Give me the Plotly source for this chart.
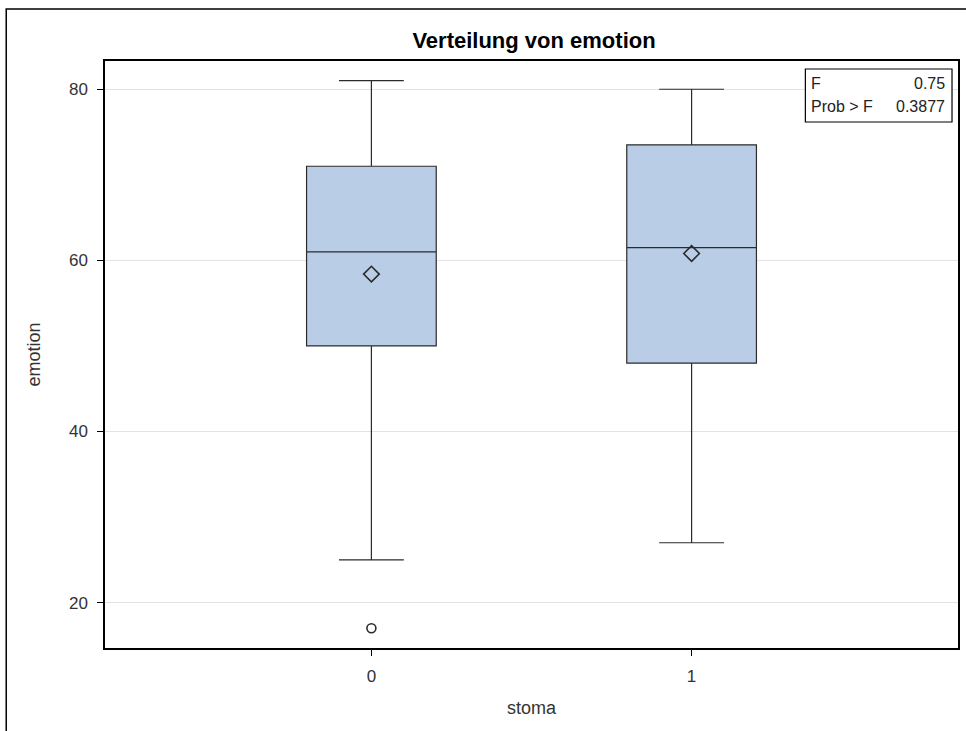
import plotly.graph_objects as go

# Summary statistics of emotion by stoma group
groups = [0, 1]
q1 = [50.0, 48.0]
median = [61.0, 61.5]
q3 = [71.0, 73.5]
lower_whisker = [25.0, 27.0]
upper_whisker = [81.0, 80.0]
means = [58.4, 60.8]
outlier_group = [0]
outlier_value = [17.0]

f_value = "0.75"
p_value = "0.3877"
y_ticks = [20, 40, 60, 80]

FONT = "Liberation Sans, Arial, sans-serif"
BOX_FILL = "#B9CEE6"
LINE = "#2b2b2b"
TEXT = "#333333"

fig = go.Figure()
fig.add_trace(go.Box(
    x=groups, q1=q1, median=median, q3=q3,
    lowerfence=lower_whisker, upperfence=upper_whisker,
    fillcolor=BOX_FILL, line=dict(color=LINE, width=1.2),
    width=0.405, whiskerwidth=0.5, boxpoints=False, showlegend=False,
    hoverinfo="skip",
))
fig.add_trace(go.Scatter(
    x=groups, y=means, mode="markers", showlegend=False,
    marker=dict(symbol="diamond-open", size=12, color=LINE, line=dict(width=1.6, color=LINE)),
))
fig.add_trace(go.Scatter(
    x=outlier_group, y=outlier_value, mode="markers", showlegend=False,
    marker=dict(symbol="circle-open", size=9, color=LINE, line=dict(width=1.6, color=LINE)),
))

W, H = 966, 731
L, R, T, B = 105, 6, 61, 83
pw, ph = W - L - R, H - T - B

def px(x):
    return (x - L) / pw

def py(y):
    return (H - B - y) / ph

shapes = [
    # outer frame around the graph
    dict(type="rect", xref="paper", yref="paper", x0=px(6), x1=px(1100), y0=py(9), y1=py(900),
         line=dict(color="#000000", width=1.5), fillcolor="rgba(0,0,0,0)", layer="above"),
    # statistics inset
    dict(type="rect", xref="paper", yref="paper", x0=px(807), x1=px(954), y0=py(69), y1=py(122),
         line=dict(color="#000000", width=1.2), fillcolor="white", layer="above"),
]

ann_font = dict(family=FONT, size=16, color="#222222")
annotations = [
    dict(text="F", xref="paper", yref="paper", x=px(811), y=py(83), xanchor="left", yanchor="middle",
         showarrow=False, font=ann_font),
    dict(text=f_value, xref="paper", yref="paper", x=px(949), y=py(83), xanchor="right", yanchor="middle",
         showarrow=False, font=ann_font),
    dict(text="Prob > F", xref="paper", yref="paper", x=px(811), y=py(107), xanchor="left", yanchor="middle",
         showarrow=False, font=ann_font),
    dict(text=p_value, xref="paper", yref="paper", x=px(949), y=py(107), xanchor="right", yanchor="middle",
         showarrow=False, font=ann_font),
]

fig.update_layout(
    width=W, height=H,
    margin=dict(l=L, r=R, t=T, b=B),
    paper_bgcolor="white", plot_bgcolor="white",
    font=dict(family=FONT, size=17, color=TEXT),
    title=dict(text="<b>Verteilung von emotion</b>", xref="container", x=534 / W, xanchor="center",
               y=1 - 40 / H, yanchor="middle", font=dict(family=FONT, size=22, color="#000000")),
    shapes=shapes, annotations=annotations,
    xaxis=dict(
        title=dict(text="stoma", font=dict(size=18, color=TEXT), standoff=16),
        range=[-0.832, 1.832], tickmode="array", tickvals=groups, ticktext=[str(g) for g in groups],
        showgrid=False, zeroline=False, showline=True, linecolor="#000000", linewidth=1.5,
        mirror=True, ticks="outside", ticklen=6, tickcolor="#000000",
        tickfont=dict(size=17, color=TEXT), ticklabelstandoff=6,
    ),
    yaxis=dict(
        title=dict(text="emotion", font=dict(size=18, color=TEXT), standoff=24),
        range=[14.7, 83.3], tickmode="array", tickvals=y_ticks,
        showgrid=True, gridcolor="#E3E3E3", gridwidth=1, zeroline=False,
        showline=True, linecolor="#000000", linewidth=1.5, mirror=True,
        ticks="outside", ticklen=6, tickcolor="#000000",
        tickfont=dict(size=17, color=TEXT), ticklabelstandoff=6,
    ),
)

fig.write_html("out.html")
